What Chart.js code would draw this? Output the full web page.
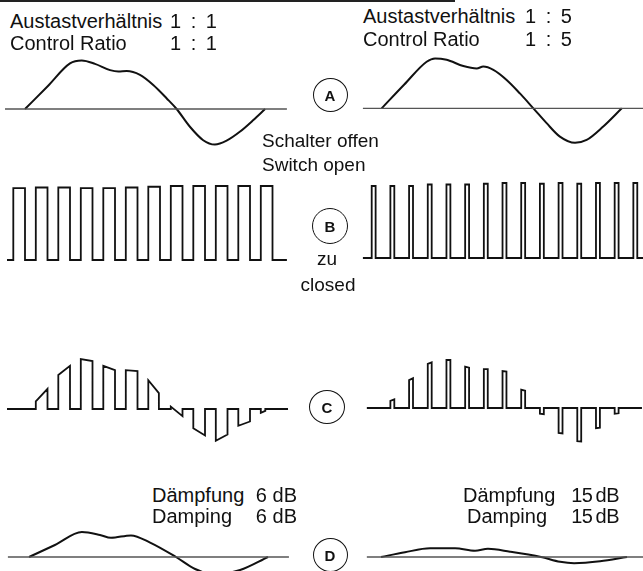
<!DOCTYPE html>
<html>
<head>
<meta charset="utf-8">
<script src="https://cdn.jsdelivr.net/npm/chart.js@4/dist/chart.umd.min.js"></script>
<style>
  html, body { margin:0; padding:0; background:#fff; }
  #wrap { position:relative; width:643px; height:571px; overflow:hidden; background:#fff; font-family:"Liberation Sans", Arial, sans-serif; color:#111; }
  canvas { position:absolute; }
  .lbl { position:absolute; white-space:pre; }
  .circ { position:absolute; border:1.6px solid #111; border-radius:50%; box-sizing:border-box; display:flex; align-items:center; justify-content:center; font-weight:bold; font-size:15px; }
  #topline { position:absolute; left:0; top:0; width:455px; height:2px; background:#222; }
</style>
</head>
<body>
<div id="wrap"><div id="topline"></div></div>
<script>
// ---------- DATA (time in pulse periods, amplitude in relative units) ----------
// A: input signal, switch open
const aLeftT  = [0.52, 1.54, 2.52, 3.04, 3.63, 4.30, 4.67, 5.04, 5.63, 6.22, 6.82, 7.26, 7.85, 8.44, 8.96, 9.48, 10.08, 10.67, 11.19];
const aLeftV  = [0, 0.48, 0.95, 1.01, 0.94, 0.81, 0.78, 0.79, 0.71, 0.50, 0.22, 0, -0.37, -0.65, -0.74, -0.66, -0.47, -0.23, 0];
const aRightT = [0.535, 1.73, 2.94, 3.39, 4.01, 4.90, 5.62, 5.97, 6.51, 7.22, 7.93, 8.65, 9.36, 10.07, 10.88, 11.50, 12.39, 13.38];
const aRightV = [0, 0.49, 0.97, 1.04, 1.01, 0.88, 0.83, 0.87, 0.80, 0.59, 0.31, 0, -0.31, -0.59, -0.72, -0.66, -0.38, 0];
const aLeftAxis = [-0.37, 12.16];
const aRightAxis = [-0.47, 14.52];

// B: switching pulses
const bLeftStarts  = [0, 1, 2, 3, 4, 5, 6, 7, 8, 9, 10, 11];
const bLeftWidth   = 0.52;
const bLeftHeights = [0.97, 0.98, 0.98, 0.97, 0.97, 0.98, 0.99, 1, 1, 1, 1, 1];
const bRightStarts  = [0, 1, 2, 3, 4, 5, 6, 7, 8, 9, 10, 11, 12, 13, 14];
const bRightWidth   = 0.21;
const bRightHeights = [0.96, 0.96, 0.96, 0.98, 0.98, 0.98, 0.99, 1, 1, 0.99, 1, 0.99, 1, 1, 1];
const bLeftAxis = [-0.28, 12.16];
const bRightAxis = [-0.47, 14.52];

// C: gated signal (value at leading and trailing edge of each pulse)
const cLeftStarts = [1, 2, 3, 4, 5, 6, 7, 8, 9, 10, 11];
const cLeftWidths = [0.52, 0.52, 0.52, 0.52, 0.52, 0.47, 0.52, 0.52, 0.52, 0.52, 0.2];
const cLeftLead   = [0.16, 0.71, 1.04, 0.90, 0.81, 0.60, 0.05, -0.40, -0.66, -0.35, -0.08];
const cLeftTrail  = [0.42, 0.90, 1.00, 0.81, 0.79, 0.33, -0.15, -0.55, -0.53, -0.26, -0.04];
const cRightStarts = [1, 2, 3, 4, 5, 6, 7, 8, 9, 10, 11, 12, 13];
const cRightWidths = [0.21, 0.21, 0.21, 0.21, 0.21, 0.21, 0.21, 0.21, 0.21, 0.21, 0.21, 0.21, 0.21];
const cRightLead   = [0.15, 0.58, 0.92, 1.00, 0.86, 0.81, 0.77, 0.38, -0.12, -0.52, -0.69, -0.42, -0.12];
const cRightTrail  = [0.18, 0.62, 0.95, 1.00, 0.84, 0.81, 0.76, 0.36, -0.13, -0.53, -0.70, -0.41, -0.11];
const cLeftAxis = [-0.28, 12.21];
const cRightAxis = [-0.26, 14.46];

// D: output after damping
const dLeftT  = [0.70, 1.85, 3.05, 3.85, 4.34, 5.23, 6.08, 7.23, 8.08, 8.88, 10.08, 11.32];
const dLeftV  = [0, 0.25, 0.52, 0.46, 0.40, 0.45, 0.30, 0, -0.25, -0.36, -0.27, 0];
const dRightT = [0.50, 1.78, 3.12, 4.46, 5.53, 6.22, 7.40, 9.06, 10.08, 10.83, 12.22, 13.66];
const dRightV = [0, 0.10, 0.18, 0.18, 0.13, 0.17, 0.11, 0, -0.10, -0.13, -0.09, 0];
const dLeftAxis = [-0.24, 12.25];
const dRightAxis = [-0.26, 14.52];

// ---------- LAYOUT ----------
const wrap = document.getElementById('wrap');
const LEFT_BOX  = { left: 0,   width: 300, xmin: -0.5911, xmax: 12.742 };
const RIGHT_BOX = { left: 340, width: 303, xmin: -1.696,  xmax: 14.516 };

function xy(ts, vs) { return ts.map((t, i) => ({ x: t, y: vs[i] })); }
function axisLine(ax) { return [{ x: ax[0], y: 0 }, { x: ax[1], y: 0 }]; }
function pulseTrain(ax, starts, widths, lead, trail) {
  const pts = [{ x: ax[0], y: 0 }];
  starts.forEach((s, i) => {
    const w = Array.isArray(widths) ? widths[i] : widths;
    pts.push({ x: s, y: 0 }, { x: s, y: lead[i] }, { x: s + w, y: trail[i] }, { x: s + w, y: 0 });
  });
  pts.push({ x: ax[1], y: 0 });
  return pts;
}

function makeChart(box, top, height, base, unit, datasets) {
  const c = document.createElement('canvas');
  c.width = box.width; c.height = height;
  c.style.left = box.left + 'px'; c.style.top = top + 'px';
  c.style.width = box.width + 'px'; c.style.height = height + 'px';
  wrap.appendChild(c);
  new Chart(c.getContext('2d'), {
    type: 'line',
    data: { datasets },
    options: {
      responsive: false, animation: false, devicePixelRatio: 1,
      layout: { padding: 0 },
      plugins: { legend: { display: false }, tooltip: { enabled: false } },
      elements: { point: { radius: 0 } },
      scales: {
        x: { type: 'linear', display: false, min: box.xmin, max: box.xmax },
        y: { type: 'linear', display: false, min: -(top + height - base) / unit, max: (base - top) / unit }
      }
    }
  });
}

const baseStyle = { borderColor: '#555', borderWidth: 1.3, tension: 0, fill: false };
const waveStyle = { borderColor: '#111', borderWidth: 2, cubicInterpolationMode: 'monotone', fill: false };
const pulseStyle = { borderColor: '#111', borderWidth: 1.8, tension: 0, fill: false };

// A
makeChart(LEFT_BOX, 50, 110, 109, 48, [
  Object.assign({ data: axisLine(aLeftAxis) }, baseStyle),
  Object.assign({ data: xy(aLeftT, aLeftV) }, waveStyle)
]);
makeChart(RIGHT_BOX, 48, 110, 108.3, 48, [
  Object.assign({ data: axisLine(aRightAxis) }, baseStyle),
  Object.assign({ data: xy(aRightT, aRightV) }, waveStyle)
]);
// B
makeChart(LEFT_BOX, 178, 90, 260, 74, [
  Object.assign({ data: pulseTrain(bLeftAxis, bLeftStarts, bLeftWidth, bLeftHeights, bLeftHeights) }, pulseStyle)
]);
makeChart(RIGHT_BOX, 176, 90, 258, 75, [
  Object.assign({ data: pulseTrain(bRightAxis, bRightStarts, bRightWidth, bRightHeights, bRightHeights) }, pulseStyle)
]);
// C
makeChart(LEFT_BOX, 345, 110, 409, 48, [
  Object.assign({ data: pulseTrain(cLeftAxis, cLeftStarts, cLeftWidths, cLeftLead, cLeftTrail) }, pulseStyle)
]);
makeChart(RIGHT_BOX, 345, 110, 408, 48, [
  Object.assign({ data: pulseTrain(cRightAxis, cRightStarts, cRightWidths, cRightLead, cRightTrail) }, pulseStyle)
]);
// D
makeChart(LEFT_BOX, 515, 56, 557, 48, [
  Object.assign({ data: axisLine(dLeftAxis) }, baseStyle),
  Object.assign({ data: xy(dLeftT, dLeftV) }, waveStyle)
]);
makeChart(RIGHT_BOX, 515, 56, 557, 48, [
  Object.assign({ data: axisLine(dRightAxis) }, baseStyle),
  Object.assign({ data: xy(dRightT, dRightV) }, waveStyle)
]);

// ---------- TEXT ----------
function label(text, x, baseline, size, align, extra) {
  const d = document.createElement('div');
  d.className = 'lbl';
  d.textContent = text;
  d.style.fontSize = size + 'px';
  d.style.lineHeight = size + 'px';
  d.style.top = (baseline - 0.8465 * size) + 'px';
  if (align === 'right') d.style.right = (643 - x) + 'px';
  else if (align === 'center') { d.style.left = (x - 100) + 'px'; d.style.width = '200px'; d.style.textAlign = 'center'; }
  else d.style.left = x + 'px';
  if (extra) Object.assign(d.style, extra);
  wrap.appendChild(d);
}
function circle(letter, cx, cy, w, h) {
  const d = document.createElement('div');
  d.className = 'circ';
  d.textContent = letter;
  d.style.left = (cx - w / 2) + 'px'; d.style.top = (cy - h / 2) + 'px';
  d.style.width = w + 'px'; d.style.height = h + 'px';
  wrap.appendChild(d);
}

const ratioStyle = { wordSpacing: '4px' };
const dbStyle = { letterSpacing: '-0.5px', wordSpacing: '-2px' };

label('Austastverhältnis', 10, 28, 20);
label('1 : 1', 217, 28, 20, 'right', ratioStyle);
label('Control Ratio', 10, 50, 20);
label('1 : 1', 217, 50, 20, 'right', ratioStyle);
label('Austastverhältnis', 363, 23, 20);
label('1 : 5', 572, 23, 20, 'right', ratioStyle);
label('Control Ratio', 363, 46, 20);
label('1 : 5', 572, 46, 20, 'right', ratioStyle);

label('Schalter offen', 262, 147, 19);
label('Switch open', 262, 171, 19);
label('zu', 327, 265, 19, 'center');
label('closed', 328, 291, 19, 'center');

label('Dämpfung', 152, 502, 20);
label('6 dB', 297, 502, 20, 'right');
label('Damping', 152, 523, 20);
label('6 dB', 297, 523, 20, 'right');
label('Dämpfung', 463, 502, 20);
label('15 dB', 619, 502, 20, 'right', dbStyle);
label('Damping', 467, 523, 20);
label('15 dB', 619, 523, 20, 'right', dbStyle);

circle('A', 330, 95, 35, 34);
circle('B', 330, 226, 36, 36);
circle('C', 327, 407, 36, 34);
circle('D', 330, 555, 35, 34);
</script>
</body>
</html>
